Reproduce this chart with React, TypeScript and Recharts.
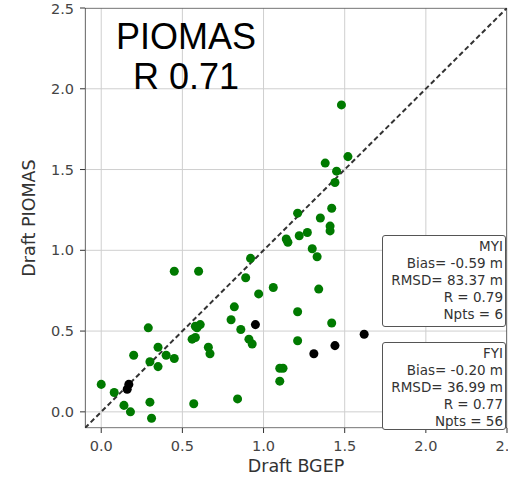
import { ScatterChart, Scatter, XAxis, YAxis, ZAxis, CartesianGrid, ReferenceLine, ReferenceArea, Label } from "recharts";

// first-year ice points (green)
const fyiBgep = [
  0.45, 0.6, 0.29, 0.58, 0.61, 0.56, 0.58, 0.66, 0.67, 0.35, 0.2, 0.4, 0.45, 0.3, 0.35, 0.0, 0.08, 0.14, 0.18, 0.3,
  0.31, 0.57, 1.42, 1.35, 1.21, 1.41, 1.27, 1.22, 1.14, 1.15, 1.3, 1.33, 0.92, 0.89, 1.06, 0.97, 1.34, 0.82, 0.8, 1.21,
  1.42, 0.86, 0.91, 0.93, 1.21, 1.1, 1.12, 1.1, 0.84, 1.48, 1.38, 1.52, 1.45, 1.44, 1.41, 0.59,
];
const fyiPiomas = [
  0.87, 0.87, 0.52, 0.53, 0.54, 0.45, 0.46, 0.4, 0.36, 0.4, 0.35, 0.35, 0.33, 0.31, 0.28, 0.17, 0.12, 0.04, 0.0, 0.06,
  -0.04, 0.05, 1.26, 1.2, 1.23, 1.12, 1.11, 1.09, 1.07, 1.05, 1.01, 0.96, 0.95, 0.83, 0.77, 0.73, 0.76, 0.65, 0.57, 0.62,
  0.55, 0.51, 0.45, 0.42, 0.44, 0.27, 0.27, 0.19, 0.08, 1.9, 1.54, 1.58, 1.49, 1.42, 1.15, 0.52,
];

// multi-year ice points (black)
const myiBgep = [0.16, 0.17, 0.95, 1.62, 1.44, 1.31];
const myiPiomas = [0.14, 0.17, 0.54, 0.48, 0.41, 0.36];

const ticks = [0, 0.5, 1, 1.5, 2, 2.5];

const myiStats = ["MYI", "Bias= -0.59 m", "RMSD= 83.37 m", "R = 0.79", "Npts = 6"];
const fyiStats = ["FYI", "Bias= -0.20 m", "RMSD= 36.99 m", "R = 0.77", "Npts = 56"];

const fyiData = fyiBgep.map((x, i) => ({ x, y: fyiPiomas[i] }));
const myiData = myiBgep.map((x, i) => ({ x, y: myiPiomas[i] }));

const tickStyle = { fontFamily: "DejaVu Sans", fontSize: 14.5, fill: "#444" };

function StatsBox({ lines, top, height }: { lines: string[]; top: number; height: number }) {
  return (
    <div
      style={{
        position: "absolute",
        left: 382,
        top,
        width: 124,
        height,
        boxSizing: "border-box",
        border: "1px solid #555",
        borderRadius: 3,
        background: "#fff",
        padding: "2px 2px 0 0",
        textAlign: "right",
        fontFamily: "DejaVu Sans",
        fontSize: 13.5,
        lineHeight: "17px",
        color: "#333",
        whiteSpace: "nowrap",
      }}
    >
      {lines.map((l) => (
        <div key={l}>{l}</div>
      ))}
    </div>
  );
}

export default function App() {
  return (
    <div style={{ position: "fixed", left: 0, top: 0, width: 508, height: 479, overflow: "hidden", background: "#fff" }}>
      <ScatterChart width={560} height={479} margin={{ top: 8, right: 53, bottom: 0, left: 0 }}>
        <CartesianGrid stroke="#cfcfcf" />
        <XAxis
          type="number"
          dataKey="x"
          domain={[-0.1, 2.5]}
          ticks={ticks}
          allowDataOverflow
          height={51}
          axisLine={false}
          tickLine={{ stroke: "#333" }}
          tickSize={5}
          tickMargin={8}
          tick={tickStyle}
          tickFormatter={(v: number) => v.toFixed(1)}
          label={{ value: "Draft BGEP", position: "insideBottom", offset: 7, style: { fontFamily: "DejaVu Sans", fontSize: 17.5, fill: "#333" } }}
        />
        <YAxis
          type="number"
          dataKey="y"
          domain={[-0.1, 2.5]}
          ticks={ticks}
          allowDataOverflow
          width={85}
          axisLine={false}
          tickLine={{ stroke: "#333" }}
          tickSize={5}
          tickMargin={6}
          tick={tickStyle}
          tickFormatter={(v: number) => v.toFixed(1)}
        >
          <Label
            content={() => (
              <text
                x={29}
                y={218}
                transform="rotate(-90 29 218)"
                textAnchor="middle"
                dominantBaseline="central"
                style={{ fontFamily: "DejaVu Sans", fontSize: 17.5, fill: "#333" }}
              >
                Draft PIOMAS
              </text>
            )}
          />
        </YAxis>
        <ZAxis range={[80, 80]} />
        <ReferenceArea x1={-0.1} x2={2.5} y1={-0.1} y2={2.5} fill="none" stroke="#333" strokeWidth={1.2} ifOverflow="hidden" />
        <Scatter data={fyiData} fill="#007a00" isAnimationActive={false} />
        <Scatter data={myiData} fill="#000" isAnimationActive={false} />
        <ReferenceLine
          segment={[
            { x: -0.1, y: -0.1 },
            { x: 2.5, y: 2.5 },
          ]}
          stroke="#333"
          strokeWidth={2}
          strokeDasharray="5 3"
          ifOverflow="hidden"
        />
      </ScatterChart>
      <div
        style={{
          position: "absolute",
          left: 86,
          top: 17,
          width: 200,
          textAlign: "center",
          fontFamily: "Liberation Sans",
          fontSize: 36,
          lineHeight: "40px",
          color: "#000",
        }}
      >
        <div>PIOMAS</div>
        <div>R 0.71</div>
      </div>
      <StatsBox lines={myiStats} top={235} height={92} />
      <StatsBox lines={fyiStats} top={342} height={88} />
    </div>
  );
}
